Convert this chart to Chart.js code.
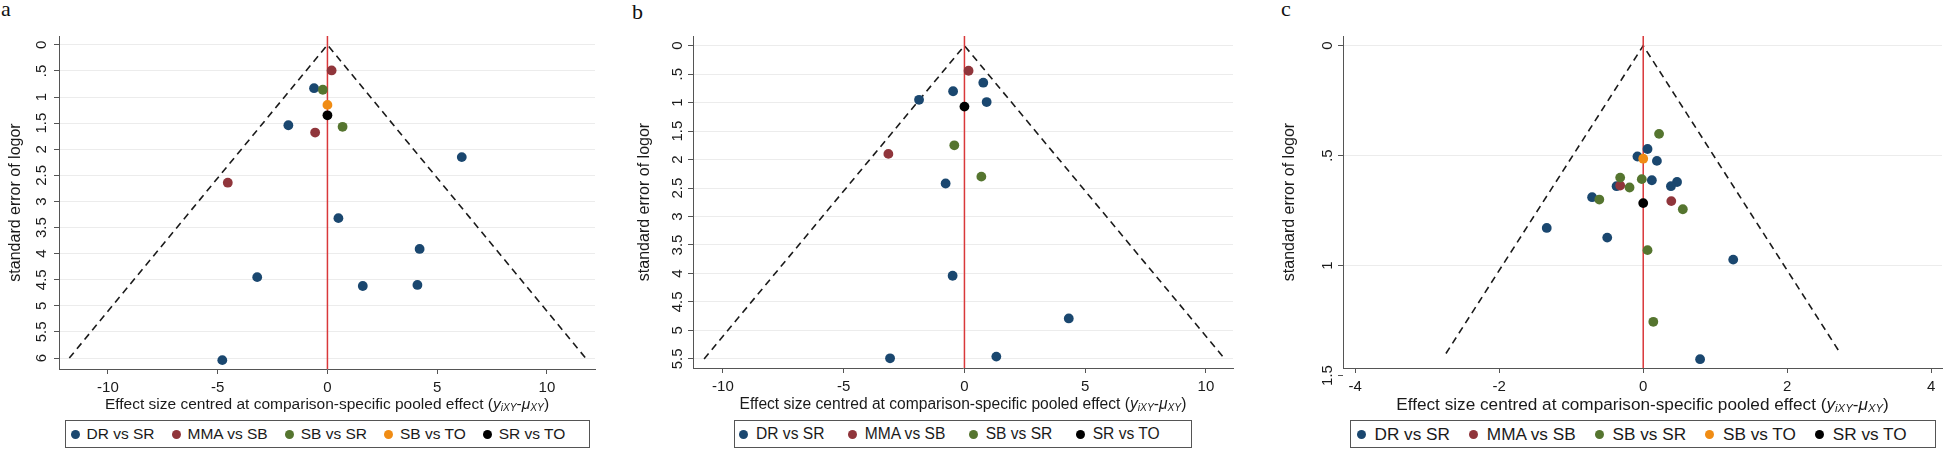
<!DOCTYPE html>
<html>
<head>
<meta charset="utf-8">
<script src="https://cdn.jsdelivr.net/npm/chart.js@4.4.1/dist/chart.umd.min.js"></script>
<style>
  html, body { margin: 0; padding: 0; background: #fff; }
  body { width: 1960px; height: 472px; overflow: hidden; position: relative;
         font-family: "Liberation Sans", Arial, sans-serif; color: #1a1a1a; }
  .plabel { position: absolute; font-family: "Liberation Serif", "Times New Roman", serif;
            font-size: 22px; line-height: 22px; color: #111; }
  .xtitle { position: absolute; top: 394px; height: 20px; line-height: 20px; white-space: nowrap;
            text-align: center; color: #1a1a1a; }
  .xtitle sub { font-size: 66%; vertical-align: -0.22em; line-height: 0; font-style: italic; }
  .legend { position: absolute; top: 420px; height: 28px; box-sizing: border-box;
            border: 1px solid #555; background: #fff; display: flex; align-items: center;
            white-space: nowrap; color: #1a1a1a; }
  .legend .dot { display: inline-block; width: 9px; height: 9px; border-radius: 50%; flex: none; }
  .legend .item { display: flex; align-items: center; }
</style>
</head>
<body>
<script>
// ---------------- data ----------------
const seriesNames  = ["DR vs SR", "MMA vs SB", "SB vs SR", "SB vs TO", "SR vs TO"];
const seriesColors = ["#1a476f", "#90353b", "#55752f", "#f08c14", "#000000"];
const yTitle = "standard error of logor";

// tick values / labels
const xTicksAB = [-10, -5, 0, 5, 10];
const xTickLabelsAB = ["-10", "-5", "0", "5", "10"];
const xTicksC = [-4, -2, 0, 2, 4];
const xTickLabelsC = ["-4", "-2", "0", "2", "4"];
const yTicksA = [0, 0.5, 1, 1.5, 2, 2.5, 3, 3.5, 4, 4.5, 5, 5.5, 6];
const yTickLabelsA = ["0", ".5", "1", "1.5", "2", "2.5", "3", "3.5", "4", "4.5", "5", "5.5", "6"];
const yTicksB = [0, 0.5, 1, 1.5, 2, 2.5, 3, 3.5, 4, 4.5, 5, 5.5];
const yTickLabelsB = ["0", ".5", "1", "1.5", "2", "2.5", "3", "3.5", "4", "4.5", "5", "5.5"];
const yTicksC = [0, 0.5, 1, 1.5];
const yTickLabelsC = ["0", ".5", "1", "1.5"];

// panel a : centred effect (x) and standard error (se)
const aDRx   = [-0.61, -1.78, 6.12, 0.50, 4.20, -3.20, 1.61, 4.10, -4.79];
const aDRse  = [0.83, 1.54, 2.15, 3.32, 3.91, 4.45, 4.62, 4.60, 6.04];
const aMMAx  = [0.19, -0.56, -4.54];
const aMMAse = [0.49, 1.68, 2.64];
const aSBSRx  = [-0.21, 0.69];
const aSBSRse = [0.86, 1.57];
const aSBTOx  = [0.0];
const aSBTOse = [1.15];
const aSRTOx  = [0.0];
const aSRTOse = [1.35];
const aFunnelX  = [-11.76, 0, 11.76];
const aFunnelSE = [6, 0, 6];

// panel b
const bDRx   = [0.78, -0.47, -1.88, 0.92, -0.78, -0.49, 4.32, 1.32, -3.08];
const bDRse  = [0.65, 0.80, 0.95, 0.99, 2.42, 4.04, 4.79, 5.46, 5.49];
const bMMAx  = [0.17, -3.15];
const bMMAse = [0.44, 1.90];
const bSBSRx  = [-0.42, 0.70];
const bSBSRse = [1.75, 2.30];
const bSRTOx  = [0.0];
const bSRTOse = [1.07];
const bFunnelX  = [-10.78, 0, 10.78];
const bFunnelSE = [5.5, 0, 5.5];

// panel c
const cDRx   = [0.06, -0.08, 0.19, 0.12, 0.47, 0.385, -0.37, -0.71, -1.34, -0.50, 1.25, 0.79];
const cDRse  = [0.47, 0.504, 0.524, 0.612, 0.62, 0.639, 0.639, 0.689, 0.829, 0.873, 0.973, 1.426];
const cMMAx  = [-0.32, 0.39];
const cMMAse = [0.636, 0.707];
const cSBSRx  = [0.22, -0.32, -0.02, -0.19, -0.61, 0.55, 0.06, 0.14];
const cSBSRse = [0.401, 0.60, 0.607, 0.645, 0.70, 0.744, 0.93, 1.256];
const cSBTOx  = [0.0];
const cSBTOse = [0.514];
const cSRTOx  = [0.0];
const cSRTOse = [0.716];
const cFunnelX  = [-2.74, 0, 2.74];
const cFunnelSE = [1.4, 0, 1.4];

// ---------------- layout ----------------
const FONT = "'Liberation Sans', Arial, sans-serif";
const H = 420;

const panels = [
  { letter: "a", letterLeft: 1, letterTop: -2,
    left: 0, width: 620, yAxisWidth: 59, rightPad: 25, bottom: 369,
    xMin: -12.23, xMax: 12.19, yMin: -0.17, yMax: 6.21,
    xTicks: xTicksAB, xTickLabels: xTickLabelsAB, yTicks: yTicksA, yTickLabels: yTickLabelsA,
    yTickPad: 1.6, yTitlePad: 6.4, titleSize: 15.5, legendSize: 15.5,
    legendWidth: 525, legendPadLeft: 5.5, dotGap: 6.5, itemGap: 17.5,
    funnelX: aFunnelX, funnelSE: aFunnelSE,
    series: [
      { idx: 0, x: aDRx, se: aDRse }, { idx: 1, x: aMMAx, se: aMMAse },
      { idx: 2, x: aSBSRx, se: aSBSRse }, { idx: 3, x: aSBTOx, se: aSBTOse },
      { idx: 4, x: aSRTOx, se: aSRTOse } ] },
  { letter: "b", letterLeft: 632, letterTop: 0.6,
    left: 625, width: 640, yAxisWidth: 68, rightPad: 32, bottom: 368,
    xMin: -11.24, xMax: 11.12, yMin: -0.17, yMax: 5.66,
    xTicks: xTicksAB, xTickLabels: xTickLabelsAB, yTicks: yTicksB, yTickLabels: yTickLabelsB,
    yTickPad: 0, yTitlePad: 9.9, titleSize: 15.6, legendSize: 15.6,
    legendWidth: 458, legendPadLeft: 4, dotGap: 8, itemGap: 23.3,
    funnelX: bFunnelX, funnelSE: bFunnelSE,
    series: [
      { idx: 0, x: bDRx, se: bDRse }, { idx: 1, x: bMMAx, se: bMMAse },
      { idx: 2, x: bSBSRx, se: bSBSRse }, { idx: 4, x: bSRTOx, se: bSRTOse } ] },
  { letter: "c", letterLeft: 1281, letterTop: -2,
    left: 1270, width: 690, yAxisWidth: 73, rightPad: 18, bottom: 368,
    xMin: -4.17, xMax: 4.15, yMin: -0.044, yMax: 1.466,
    xTicks: xTicksC, xTickLabels: xTickLabelsC, yTicks: yTicksC, yTickLabels: yTickLabelsC,
    yTickPad: 0, yTitlePad: 10.4, titleSize: 17.2, legendSize: 17.2,
    legendWidth: 586, legendPadLeft: 6.4, dotGap: 8.6, itemGap: 19.3,
    funnelX: cFunnelX, funnelSE: cFunnelSE,
    series: [
      { idx: 0, x: cDRx, se: cDRse }, { idx: 1, x: cMMAx, se: cMMAse },
      { idx: 2, x: cSBSRx, se: cSBSRse }, { idx: 3, x: cSBTOx, se: cSBTOse },
      { idx: 4, x: cSRTOx, se: cSRTOse } ] }
];

function makePanel(p) {
  const lab = document.createElement("div");
  lab.className = "plabel";
  lab.style.left = p.letterLeft + "px";
  lab.style.top = p.letterTop + "px";
  lab.textContent = p.letter;
  document.body.appendChild(lab);

  const wrap = document.createElement("div");
  wrap.style.cssText = `position:absolute;left:${p.left}px;top:0;width:${p.width}px;height:${H}px;`;
  const cv = document.createElement("canvas");
  cv.width = p.width; cv.height = H;
  cv.style.width = p.width + "px"; cv.style.height = H + "px";
  wrap.appendChild(cv);
  document.body.appendChild(wrap);

  const datasets = [];
  datasets.push({
    type: "line", label: "funnel",
    data: p.funnelX.map((x, i) => ({ x: x, y: p.funnelSE[i] })),
    borderColor: "#1a1a1a", borderWidth: 1.6, borderDash: [7, 5],
    pointRadius: 0, fill: false, tension: 0, order: 30
  });
  datasets.push({
    type: "line", label: "zero",
    data: [{ x: 0, y: p.yMin }, { x: 0, y: p.yMax }],
    borderColor: "#d9383a", borderWidth: 1.5, pointRadius: 0, fill: false, order: 29
  });
  p.series.forEach(s => {
    datasets.push({
      type: "scatter", label: seriesNames[s.idx],
      data: s.x.map((x, i) => ({ x: x, y: s.se[i] })),
      backgroundColor: seriesColors[s.idx], borderWidth: 0,
      pointRadius: 4.9, pointHoverRadius: 4.9, order: 10 - s.idx
    });
  });

  const chart = new Chart(cv, {
    type: "scatter",
    data: { datasets },
    options: {
      responsive: false, animation: false, devicePixelRatio: 1,
      layout: { padding: { top: 36, right: p.rightPad, left: 0, bottom: 0 } },
      plugins: { legend: { display: false }, tooltip: { enabled: false } },
      events: [],
      scales: {
        x: {
          type: "linear", min: p.xMin, max: p.xMax,
          afterBuildTicks: s => { s.ticks = p.xTicks.map(v => ({ value: v })); },
          afterFit: s => { s.height = H - p.bottom; },
          ticks: {
            callback: (v, i) => p.xTickLabels[i],
            font: { family: FONT, size: 15 }, color: "#1a1a1a", padding: 5,
            autoSkip: false, maxRotation: 0, minRotation: 0
          },
          grid: { drawOnChartArea: false, drawTicks: true, tickLength: 5, tickColor: "#555", tickWidth: 1 },
          border: { display: true, color: "#555", width: 1 }
        },
        y: {
          type: "linear", reverse: true, min: p.yMin, max: p.yMax,
          afterBuildTicks: s => { s.ticks = p.yTicks.map(v => ({ value: v })); },
          afterFit: s => { s.width = p.yAxisWidth; },
          ticks: {
            callback: (v, i) => p.yTickLabels[i],
            font: { family: FONT, size: 15 }, color: "#1a1a1a",
            minRotation: 90, maxRotation: 90, crossAlign: "center",
            padding: p.yTickPad, autoSkip: false
          },
          grid: {
            color: c => (c.tick && c.tick.value > p.yMax) ? "rgba(0,0,0,0)" : "#ececec",
            lineWidth: 1, drawTicks: true, tickLength: 5, tickColor: "#555", tickWidth: 1
          },
          border: { display: true, color: "#555", width: 1 },
          title: {
            display: true, text: yTitle, color: "#1a1a1a",
            font: { family: FONT, size: 16 }, padding: { top: p.yTitlePad, bottom: 0 }
          }
        }
      }
    }
  });

  const ca = chart.chartArea;
  const center = p.left + (ca.left + ca.right) / 2;

  // x-axis title (with sub-scripts)
  const xt = document.createElement("div");
  xt.className = "xtitle";
  xt.style.fontSize = p.titleSize + "px";
  xt.style.width = "700px";
  xt.style.left = (center - 350) + "px";
  xt.innerHTML = "Effect size centred at comparison-specific pooled effect (<i>y</i><sub>iXY</sub>-<i>\u03bc</i><sub>XY</sub>)";
  document.body.appendChild(xt);

  // legend box
  const lg = document.createElement("div");
  lg.className = "legend";
  lg.style.width = p.legendWidth + "px";
  lg.style.left = (center - p.legendWidth / 2) + "px";
  lg.style.paddingLeft = p.legendPadLeft + "px";
  lg.style.fontSize = p.legendSize + "px";
  p.series.forEach((s, k) => {
    const it = document.createElement("span");
    it.className = "item";
    if (k > 0) it.style.marginLeft = p.itemGap + "px";
    const d = document.createElement("span");
    d.className = "dot";
    d.style.background = seriesColors[s.idx];
    d.style.marginRight = p.dotGap + "px";
    const t = document.createElement("span");
    t.textContent = seriesNames[s.idx];
    it.appendChild(d); it.appendChild(t);
    lg.appendChild(it);
  });
  document.body.appendChild(lg);
}

panels.forEach(makePanel);
</script>
</body>
</html>
